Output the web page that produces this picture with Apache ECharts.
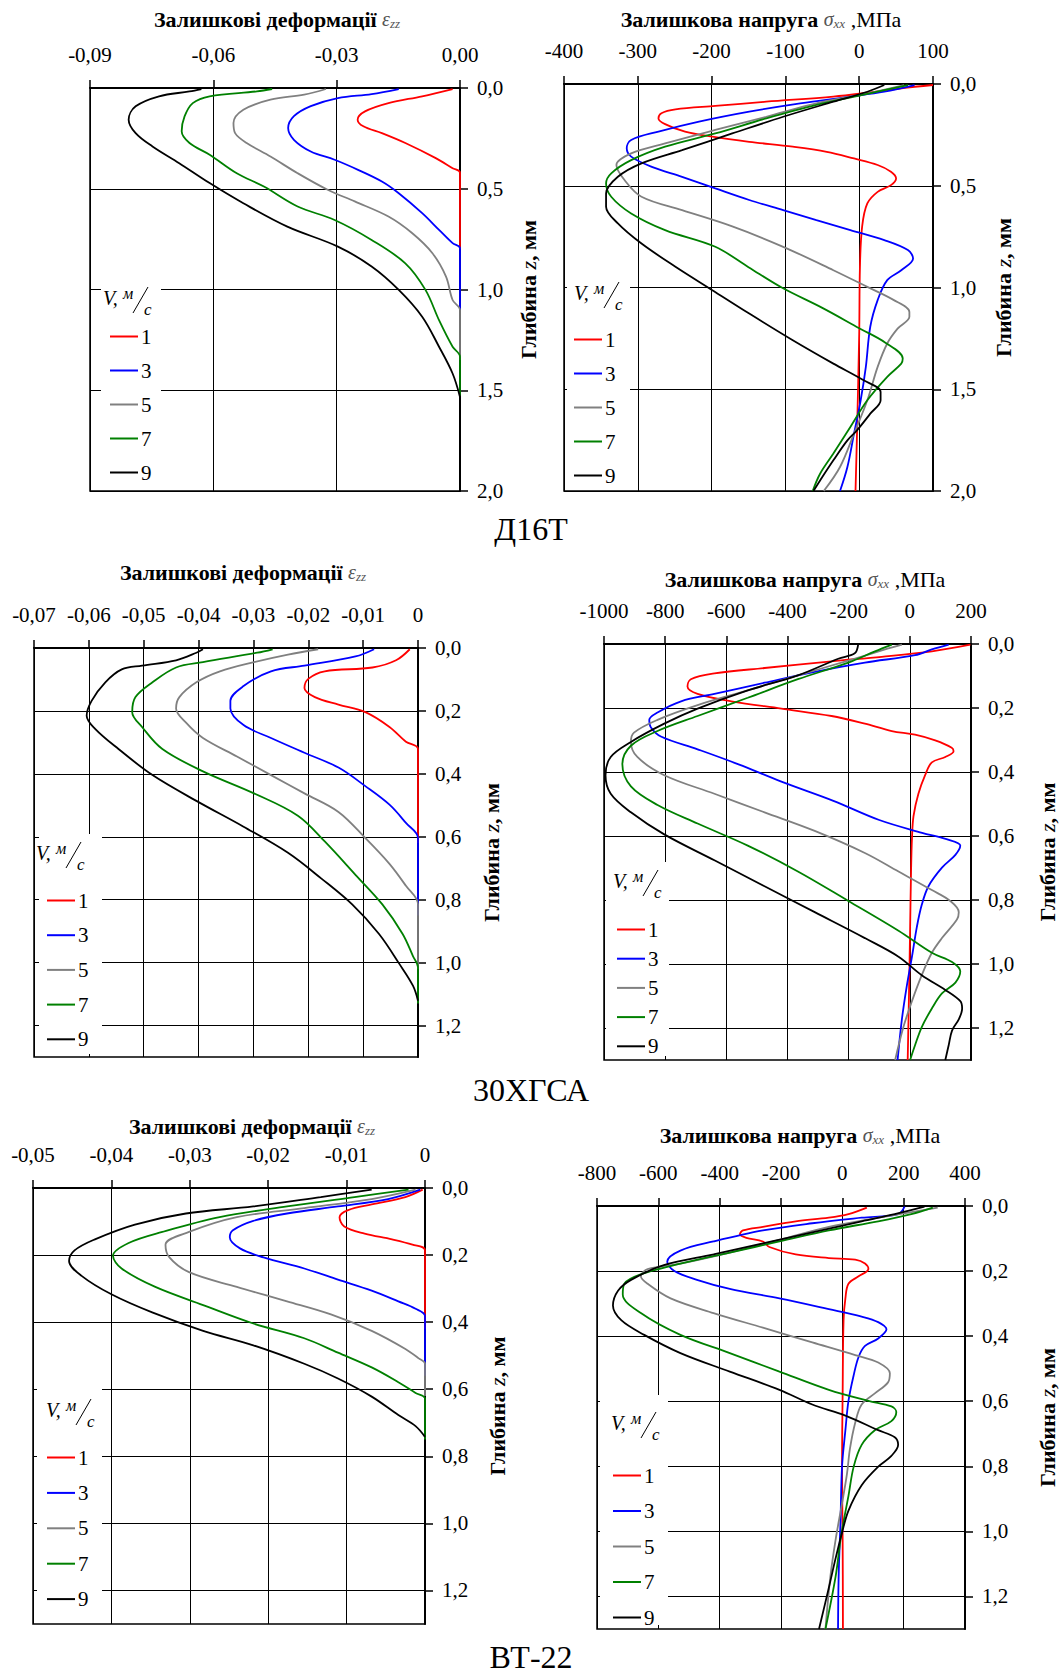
<!DOCTYPE html>
<html>
<head>
<meta charset="utf-8">
<script src="https://cdn.jsdelivr.net/npm/echarts@6/dist/echarts.min.js"></script>
<style>
  html, body { margin: 0; padding: 0; background: #fff; }
  #chart { width: 1059px; height: 1675px; }
</style>
</head>
<body>
<div id="chart"></div>
<script>
// швидкості V, м/с
const speeds = ["1", "3", "5", "7", "9"];
const colors = ["#ff0000", "#0000ff", "#808080", "#008000", "#000000"];

// [деформація/напруга, глибина z мм] для V = 1, 3, 5, 7, 9
const epsD16T = [
  [[-0.0018,0.005],[-0.0092,0.041],[-0.0174,0.075],[-0.0231,0.116],[-0.0249,0.157],[-0.0235,0.19],[-0.019,0.224],[-0.0133,0.273],[-0.0059,0.348],[-0.0018,0.398],[0,0.42],[0,0.8]],
  [[-0.0149,0.005],[-0.0215,0.03],[-0.0297,0.05],[-0.0363,0.09],[-0.0404,0.14],[-0.0418,0.199],[-0.0404,0.257],[-0.0363,0.315],[-0.0305,0.356],[-0.0248,0.406],[-0.019,0.464],[-0.0149,0.522],[-0.0092,0.621],[-0.0051,0.704],[-0.0018,0.77],[0,0.795],[0,1.1]],
  [[-0.0326,0.005],[-0.0379,0.033],[-0.0461,0.058],[-0.0527,0.108],[-0.0551,0.174],[-0.0547,0.224],[-0.0519,0.273],[-0.0461,0.34],[-0.0395,0.423],[-0.0322,0.505],[-0.0256,0.563],[-0.0174,0.638],[-0.0116,0.721],[-0.0067,0.82],[-0.0034,0.936],[-0.0018,1.052],[0,1.102],[0,1.35]],
  [[-0.0457,0.005],[-0.0494,0.017],[-0.0609,0.041],[-0.065,0.075],[-0.067,0.141],[-0.0677,0.215],[-0.0658,0.273],[-0.0609,0.331],[-0.0543,0.423],[-0.0477,0.489],[-0.0395,0.588],[-0.0305,0.655],[-0.0215,0.754],[-0.0133,0.87],[-0.0084,1.002],[-0.0051,1.152],[-0.0018,1.284],[0,1.334],[0,1.53]],
  [[-0.0629,0.005],[-0.0658,0.017],[-0.0732,0.041],[-0.0789,0.091],[-0.0806,0.157],[-0.0789,0.224],[-0.0748,0.29],[-0.0683,0.373],[-0.0609,0.472],[-0.0527,0.572],[-0.042,0.688],[-0.0297,0.787],[-0.0215,0.886],[-0.0149,1.002],[-0.0092,1.135],[-0.0051,1.284],[-0.0018,1.417],[0,1.533]]
];

const sigD16T = [
  [[100,0.005],[57,0.021],[11,0.043],[-35,0.062],[-126,0.087],[-195,0.108],[-249,0.125],[-268,0.144],[-272,0.169],[-263,0.197],[-236,0.234],[-199,0.259],[-149,0.284],[-90,0.308],[-44,0.333],[-7,0.366],[25,0.398],[43,0.431],[50,0.464],[43,0.497],[25,0.53],[11,0.587],[4,0.7],[1,0.9],[0,1.23],[-3,1.72],[-5,2.0]],
  [[75,0.005],[34,0.038],[-12,0.062],[-80,0.095],[-149,0.136],[-217,0.185],[-272,0.234],[-309,0.275],[-315,0.316],[-309,0.357],[-281,0.407],[-240,0.456],[-195,0.513],[-149,0.57],[-103,0.62],[-58,0.669],[-12,0.718],[34,0.767],[66,0.816],[73,0.857],[57,0.915],[38,0.964],[25,1.062],[15,1.193],[9,1.39],[2,1.554],[-7,1.718],[-16,1.882],[-26,2.0]],
  [[61,0.005],[11,0.046],[-58,0.095],[-126,0.161],[-195,0.226],[-263,0.292],[-309,0.341],[-329,0.398],[-318,0.472],[-295,0.554],[-240,0.62],[-172,0.7],[-103,0.8],[-35,0.915],[11,0.997],[47,1.062],[68,1.12],[68,1.144],[52,1.202],[38,1.275],[25,1.39],[11,1.554],[-7,1.718],[-26,1.882],[-48,2.0]],
  [[66,0.005],[11,0.049],[-58,0.103],[-126,0.169],[-195,0.243],[-263,0.308],[-309,0.374],[-336,0.439],[-343,0.489],[-336,0.554],[-309,0.636],[-263,0.718],[-195,0.8],[-150,0.9],[-105,1.0],[-50,1.1],[0,1.2],[35,1.27],[59,1.349],[57,1.374],[38,1.439],[11,1.554],[-12,1.685],[-35,1.816],[-53,1.915],[-63,2.0]],
  [[34,0.005],[11,0.038],[-35,0.087],[-103,0.161],[-172,0.243],[-240,0.325],[-295,0.39],[-327,0.456],[-343,0.538],[-343,0.603],[-327,0.685],[-295,0.784],[-249,0.898],[-199,1.013],[-149,1.128],[-90,1.259],[-35,1.374],[6,1.456],[29,1.513],[29,1.554],[15,1.62],[-3,1.702],[-16,1.751],[-35,1.849],[-53,1.948],[-62,2.0]]
];

const epsXGSA = [
  [[-0.0015,0.004],[-0.004,0.039],[-0.0083,0.062],[-0.017,0.074],[-0.02,0.098],[-0.0207,0.127],[-0.0188,0.156],[-0.0145,0.18],[-0.0096,0.204],[-0.0052,0.251],[-0.0022,0.298],[0,0.321],[0,0.62]],
  [[-0.008,0.004],[-0.0114,0.027],[-0.0207,0.056],[-0.0268,0.074],[-0.0318,0.121],[-0.0342,0.168],[-0.0342,0.192],[-0.0318,0.245],[-0.0268,0.286],[-0.0207,0.333],[-0.0145,0.38],[-0.0096,0.439],[-0.0052,0.498],[-0.0022,0.556],[0,0.604],[0,0.85]],
  [[-0.0182,0.004],[-0.0237,0.021],[-0.0299,0.045],[-0.0361,0.074],[-0.0404,0.109],[-0.0435,0.156],[-0.0441,0.192],[-0.0422,0.239],[-0.0392,0.286],[-0.033,0.345],[-0.0268,0.404],[-0.0207,0.462],[-0.0145,0.521],[-0.0096,0.604],[-0.0052,0.686],[-0.0022,0.756],[0,0.815],[0,1.02]],
  [[-0.0265,0.004],[-0.0293,0.015],[-0.0392,0.045],[-0.0441,0.062],[-0.0484,0.109],[-0.0515,0.156],[-0.0521,0.204],[-0.0503,0.251],[-0.0466,0.321],[-0.0392,0.392],[-0.0299,0.462],[-0.0219,0.533],[-0.017,0.615],[-0.0114,0.721],[-0.0065,0.815],[-0.0028,0.909],[-0.0009,0.98],[0,1.015],[0,1.13]],
  [[-0.0392,0.004],[-0.0404,0.015],[-0.0441,0.039],[-0.0503,0.056],[-0.054,0.068],[-0.057,0.109],[-0.0595,0.168],[-0.0604,0.215],[-0.0589,0.256],[-0.0546,0.321],[-0.0484,0.404],[-0.0404,0.486],[-0.0318,0.568],[-0.0237,0.651],[-0.0176,0.733],[-0.012,0.815],[-0.0071,0.909],[-0.0034,1.004],[-0.0009,1.074],[0,1.121]]
];

const sigXGSA = [
  [[198,0.002],[72,0.023],[-92,0.04],[-256,0.054],[-475,0.075],[-639,0.092],[-716,0.11],[-727,0.133],[-694,0.156],[-584,0.179],[-420,0.202],[-256,0.225],[-147,0.249],[-59,0.272],[17,0.283],[83,0.301],[137,0.324],[143,0.335],[116,0.353],[72,0.37],[50,0.41],[28,0.468],[12,0.538],[7,0.607],[4,0.711],[1,0.884],[-2,1.058],[-7,1.3]],
  [[127,0.002],[72,0.017],[17,0.035],[-147,0.058],[-311,0.087],[-475,0.121],[-639,0.156],[-748,0.179],[-825,0.214],[-852,0.237],[-847,0.26],[-814,0.289],[-694,0.329],[-560,0.376],[-420,0.43],[-250,0.49],[-100,0.55],[40,0.59],[120,0.61],[165,0.63],[149,0.659],[105,0.699],[61,0.757],[39,0.815],[23,0.884],[7,0.977],[-10,1.069],[-26,1.173],[-40,1.3]],
  [[-26,0.002],[-81,0.017],[-201,0.052],[-366,0.098],[-530,0.145],[-694,0.191],[-825,0.237],[-902,0.277],[-912,0.306],[-891,0.353],[-803,0.41],[-639,0.468],[-475,0.526],[-311,0.584],[-147,0.653],[-37,0.711],[72,0.769],[132,0.803],[160,0.838],[154,0.861],[105,0.919],[72,0.965],[39,1.035],[7,1.116],[-21,1.197],[-48,1.3]],
  [[-59,0.002],[-114,0.023],[-201,0.058],[-366,0.11],[-530,0.168],[-694,0.225],[-825,0.272],[-912,0.318],[-940,0.376],[-912,0.445],[-825,0.503],[-694,0.561],[-530,0.63],[-366,0.711],[-201,0.803],[-37,0.896],[72,0.965],[138,0.994],[165,1.023],[149,1.058],[105,1.092],[72,1.139],[39,1.197],[17,1.254],[1,1.3]],
  [[-169,0.002],[-180,0.029],[-234,0.046],[-366,0.098],[-530,0.145],[-694,0.202],[-803,0.249],[-912,0.306],[-978,0.353],[-995,0.41],[-978,0.468],[-912,0.526],[-803,0.595],[-639,0.676],[-475,0.757],[-311,0.838],[-147,0.919],[-37,0.977],[39,1.035],[116,1.081],[165,1.116],[171,1.139],[160,1.173],[138,1.208],[127,1.254],[116,1.3]]
];

const epsVT22 = [
  [[-0.0003,0.005],[-0.0025,0.027],[-0.0068,0.049],[-0.0098,0.066],[-0.0109,0.087],[-0.0103,0.115],[-0.0077,0.136],[-0.0042,0.153],[-0.0016,0.169],[0,0.186],[0,0.42]],
  [[-0.0006,0.005],[-0.0047,0.033],[-0.0111,0.055],[-0.0176,0.076],[-0.0219,0.098],[-0.0245,0.126],[-0.0249,0.147],[-0.0236,0.18],[-0.0206,0.207],[-0.0154,0.24],[-0.0111,0.273],[-0.0068,0.306],[-0.0034,0.338],[-0.0012,0.36],[0,0.382],[0,0.56]],
  [[-0.0012,0.005],[-0.0068,0.033],[-0.0154,0.06],[-0.024,0.087],[-0.0301,0.131],[-0.0331,0.169],[-0.0326,0.207],[-0.0301,0.251],[-0.024,0.295],[-0.0176,0.338],[-0.012,0.377],[-0.0068,0.426],[-0.0025,0.48],[-0.0008,0.508],[0,0.524],[0,0.62]],
  [[-0.0021,0.005],[-0.009,0.027],[-0.0176,0.055],[-0.0262,0.087],[-0.0335,0.131],[-0.0378,0.164],[-0.0398,0.202],[-0.0387,0.24],[-0.0344,0.295],[-0.0283,0.349],[-0.0219,0.404],[-0.0154,0.448],[-0.0111,0.491],[-0.0068,0.535],[-0.0034,0.579],[-0.0012,0.611],[0,0.628],[0,0.75]],
  [[-0.0068,0.005],[-0.0133,0.027],[-0.0219,0.055],[-0.0305,0.076],[-0.037,0.109],[-0.0421,0.153],[-0.0447,0.186],[-0.0454,0.218],[-0.0438,0.262],[-0.04,0.317],[-0.0348,0.371],[-0.0283,0.426],[-0.0219,0.469],[-0.0154,0.524],[-0.0111,0.568],[-0.0068,0.622],[-0.0034,0.677],[-0.0012,0.71],[0,0.742]]
];

const sigVT22 = [
  [[80,0.005],[20,0.025],[-44,0.036],[-152,0.047],[-259,0.064],[-324,0.075],[-334,0.087],[-313,0.098],[-259,0.109],[-238,0.126],[-152,0.149],[-44,0.16],[42,0.165],[74,0.177],[85,0.194],[53,0.216],[20,0.239],[10,0.284],[4,0.351],[1,0.576],[-1,0.801],[1,1.026],[2,1.3]],
  [[203,0.002],[182,0.025],[63,0.036],[-98,0.053],[-259,0.075],[-420,0.109],[-528,0.137],[-571,0.171],[-549,0.199],[-474,0.227],[-367,0.255],[-205,0.284],[-44,0.317],[63,0.34],[117,0.357],[144,0.379],[117,0.407],[74,0.43],[53,0.464],[37,0.52],[20,0.599],[10,0.689],[-1,0.801],[-6,0.97],[-12,1.139],[-14,1.3]],
  [[311,0.005],[225,0.019],[117,0.036],[-44,0.064],[-205,0.104],[-367,0.143],[-528,0.177],[-635,0.194],[-657,0.216],[-635,0.239],[-560,0.284],[-420,0.329],[-259,0.374],[-98,0.419],[42,0.458],[117,0.481],[155,0.514],[149,0.542],[106,0.576],[63,0.61],[42,0.666],[25,0.745],[15,0.824],[-1,0.914],[-22,1.026],[-39,1.139],[-55,1.3]],
  [[295,0.005],[225,0.025],[117,0.047],[-44,0.075],[-205,0.109],[-367,0.143],[-528,0.177],[-657,0.21],[-711,0.239],[-716,0.272],[-657,0.329],[-528,0.396],[-367,0.452],[-205,0.509],[-44,0.565],[85,0.599],[160,0.616],[176,0.633],[160,0.661],[106,0.689],[63,0.734],[37,0.801],[20,0.891],[4,0.97],[-6,1.026],[-22,1.139],[-55,1.3]],
  [[268,0.002],[171,0.025],[63,0.047],[-98,0.081],[-259,0.115],[-420,0.149],[-582,0.182],[-689,0.227],[-732,0.261],[-748,0.306],[-721,0.351],[-646,0.396],[-528,0.452],[-367,0.509],[-205,0.565],[-98,0.61],[10,0.644],[117,0.689],[171,0.711],[182,0.734],[160,0.768],[117,0.801],[63,0.858],[20,0.936],[-1,1.004],[-22,1.083],[-44,1.173],[-76,1.3]]
];

const materials = ["Д16Т", "30ХГСА", "ВТ-22"];

const F = '"Liberation Serif", "Times New Roman", serif';

// розміщення панелей (px)
const panels = [
  { grid: [90, 88, 370, 403], x: [-0.09, 0, 0.03], yMax: 2, yStep: 0.5, fmt: "eps2", data: epsD16T, title: [277, 19, "eps"], leg: [110, 326, 13], head: [103, 298], mask: [101, 283, 60, 203], nameGap: 57 },
  { grid: [564, 84, 369, 407], x: [-400, 100, 100], yMax: 2, yStep: 0.5, fmt: "int", data: sigD16T, title: [761, 19, "sig"], leg: [574, 329, 13], head: [574, 293], mask: [567, 280, 63, 205], nameGap: 59 },
  { grid: [34, 648, 384, 409], x: [-0.07, 0, 0.01], yMax: 1.3, yStep: 0.2, fmt: "eps", data: epsXGSA, title: [243, 572, "eps"], leg: [47, 890, 13.7], head: [36, 853], mask: [39, 834, 63, 220], nameGap: 62 },
  { grid: [604, 644, 370, 416], x: [-1000, 200, 200], yMax: 1.3, yStep: 0.2, fmt: "int", data: sigXGSA, title: [805, 579, "sig"], leg: [617, 919, 8.2], head: [613, 881], mask: [606, 862, 63, 194], nameGap: 65 },
  { grid: [33, 1188, 392, 436], x: [-0.05, 0, 0.01], yMax: 1.3, yStep: 0.2, fmt: "eps", data: epsVT22, title: [252, 1126, "eps"], leg: [47, 1447, 14.4], head: [46, 1410], mask: [37, 1385, 65, 235], nameGap: 61 },
  { grid: [597, 1206, 376, 423], x: [-800, 400, 200], yMax: 1.3, yStep: 0.2, fmt: "int", data: sigVT22, title: [800, 1135, "sig"], leg: [613, 1465, 14.5], head: [611, 1423], mask: [600, 1395, 68, 230], nameGap: 71 }
];
const captions = [[531, 529], [531, 1090], [531, 1657]];

const titleRich = {
  b: { fontFamily: F, fontWeight: "bold", fontSize: 22, fill: "#000", color: "#000" },
  g: { fontFamily: F, fontStyle: "italic", fontSize: 20, fill: "#555", color: "#555" },
  s: { fontFamily: F, fontStyle: "italic", fontSize: 13, fill: "#555", color: "#555", verticalAlign: "bottom" },
  r: { fontFamily: F, fontSize: 22, fill: "#000", color: "#000" }
};

const fmtLabel = {
  eps2: v => v.toFixed(2).replace(".", ","),
  eps: v => (Math.abs(v) < 1e-9 ? "0" : v.toFixed(2).replace(".", ",")),
  int: v => String(Math.round(v))
};

const txt = (x, y, text, extra) => ({
  type: "text", x, y, z: 6,
  style: Object.assign({ text, fill: "#000", fontFamily: F, fontSize: 20,
    textAlign: "left", align: "left", textVerticalAlign: "middle", verticalAlign: "middle" }, extra)
});

function vHeader(x, y) {
  return [
    txt(x, y, "V,", { fontStyle: "italic", fontSize: 20 }),
    txt(x + 20, y - 5, "м", { fontStyle: "italic", fontSize: 16 }),
    { type: "line", z: 6, shape: { x1: x + 30, y1: y + 15, x2: x + 45, y2: y - 11 }, style: { stroke: "#000", lineWidth: 1 } },
    txt(x + 41, y + 11, "с", { fontStyle: "italic", fontSize: 17 })
  ];
}

const grid = [], xAxis = [], yAxis = [], series = [], legend = [], elements = [];

panels.forEach((p, i) => {
  grid.push({ left: p.grid[0], top: p.grid[1], width: p.grid[2], height: p.grid[3],
    show: true, borderColor: "#000", borderWidth: 1.5, backgroundColor: "#fff" });

  xAxis.push({
    type: "value", gridIndex: i, position: "top",
    min: p.x[0], max: p.x[1], interval: p.x[2],
    axisLine: { show: true, onZero: false, lineStyle: { color: "#000", width: 2 } },
    axisTick: { show: true, length: 8, lineStyle: { color: "#000", width: 1.5 } },
    splitLine: { show: true, lineStyle: { color: "#000", width: 1 } },
    axisLabel: { margin: 23, color: "#000", fontFamily: F, fontSize: 21, formatter: fmtLabel[p.fmt] }
  });

  const yTicks = [];
  for (let k = 0; k * p.yStep <= p.yMax + 1e-9; k++) yTicks.push(+(k * p.yStep).toFixed(2));

  yAxis.push({
    type: "value", gridIndex: i, position: "right", inverse: true,
    min: 0, max: p.yMax, interval: p.yStep,
    name: "{b|Глибина }{i|z}{b|, мм}",
    nameLocation: "middle", nameRotate: 90, nameGap: p.nameGap,
    nameTextStyle: { rich: {
      b: { fontFamily: F, fontWeight: "bold", fontSize: 22, color: "#000" },
      i: { fontFamily: F, fontStyle: "italic", fontSize: 22, color: "#000" }
    } },
    axisLine: { show: true, onZero: false, lineStyle: { color: "#000", width: 2 } },
    axisTick: { show: true, length: 8, customValues: yTicks, lineStyle: { color: "#000", width: 1.5 } },
    splitLine: { show: true, lineStyle: { color: "#000", width: 1 } },
    axisLabel: { margin: 17, color: "#000", fontFamily: F, fontSize: 21, customValues: yTicks,
      formatter: v => {
        const r = v / p.yStep;
        return Math.abs(r - Math.round(r)) < 1e-6 ? v.toFixed(1).replace(".", ",") : "";
      } }
  });

  p.data.forEach((curve, k) => {
    series.push({
      type: "line", name: speeds[k], xAxisIndex: i, yAxisIndex: i,
      data: curve, showSymbol: false, symbol: "none", smooth: 0.35,
      color: colors[k],
      lineStyle: { color: colors[k], width: 1.8 },
      z: 2 + k * 0.01
    });
  });

  legend.push({
    orient: "vertical", left: p.leg[0], top: p.leg[1], itemGap: p.leg[2],
    padding: 0, selectedMode: false, icon: "rect", itemWidth: 28, itemHeight: 2,
    data: speeds,
    textStyle: { fontFamily: F, fontSize: 21, lineHeight: 20, color: "#000", padding: [0, 0, 0, -2] }
  });

  // біле тло під легендою
  elements.push({ type: "rect", z: 1, shape: { x: p.mask[0], y: p.mask[1], width: p.mask[2], height: p.mask[3] },
    style: { fill: "#fff" } });
  elements.push(...vHeader(p.head[0], p.head[1]));

  const t = p.title[2] === "eps"
    ? "{b|Залишкові деформації }{g|ε}{s|zz}"
    : "{b|Залишкова напруга }{g|σ}{s|xx}{r| ,МПа}";
  elements.push({ type: "text", x: p.title[0], y: p.title[1], z: 6,
    style: { text: t, rich: titleRich, textAlign: "center", align: "center",
      textVerticalAlign: "middle", verticalAlign: "middle" } });
});

materials.forEach((m, i) => {
  elements.push(txt(captions[i][0], captions[i][1], m, { fontSize: 32, textAlign: "center", align: "center" }));
});

const chart = echarts.init(document.getElementById("chart"), null, { renderer: "svg" });
chart.setOption({
  animation: false,
  backgroundColor: "#fff",
  grid, xAxis, yAxis, series, legend,
  graphic: { elements }
});
</script>
</body>
</html>
